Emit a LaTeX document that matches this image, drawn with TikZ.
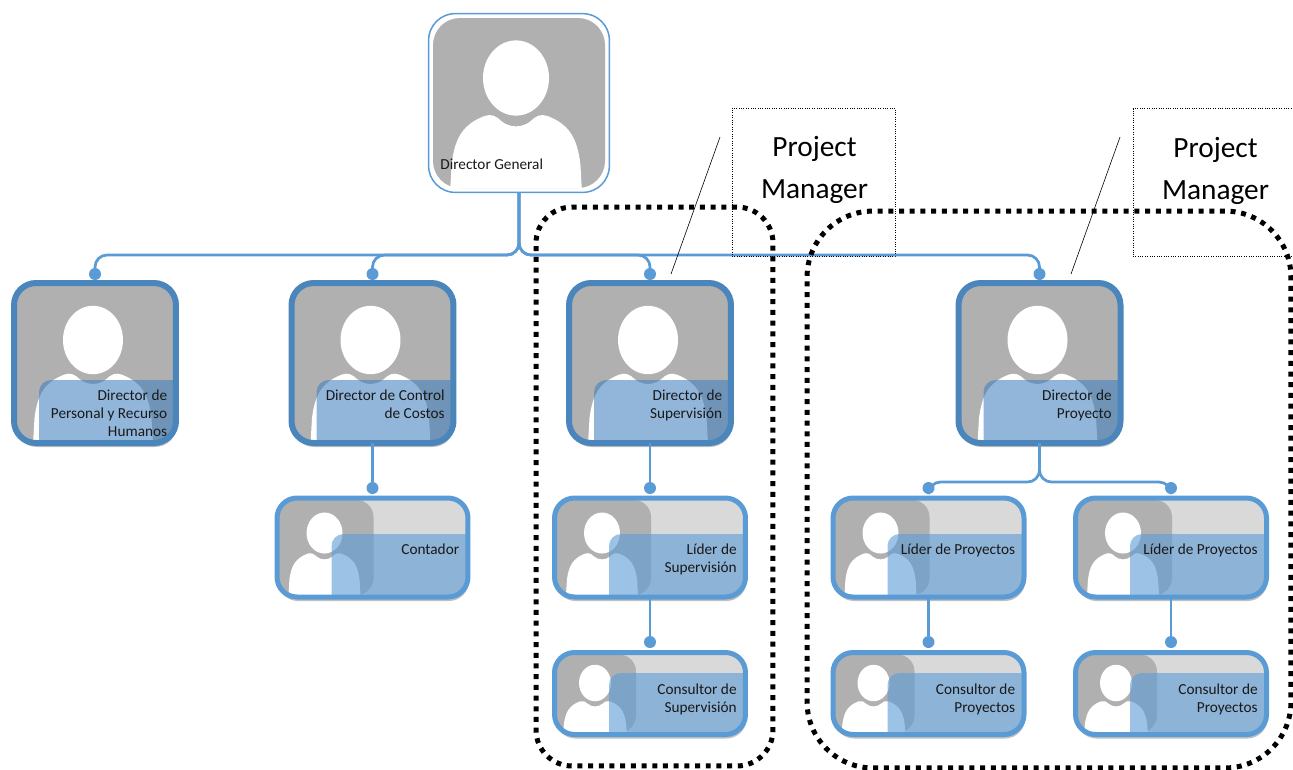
\documentclass[tikz,border=0pt]{standalone}
\usepackage{fontspec}
\setmainfont{Carlito}
\usepackage{xcolor}
\usetikzlibrary{positioning}
\usetikzlibrary{shadows}

\definecolor{linkblue}{HTML}{5B9BD5}
\definecolor{dirblue}{HTML}{4A85BC}
\definecolor{veilblue}{HTML}{3F80BE}
\definecolor{photogray}{HTML}{B0B0B0}
\definecolor{backgray}{HTML}{D9D9D9}

% white head and shoulders: #1,#2 head centre, #3 head radius
\newcommand{\facepic}[3]{%
  \fill[white,sharp corners] (#1,#2) ellipse [x radius=#3,y radius={1.14*#3}];
  \fill[white,sharp corners] ({#1-2.02*#3},{#2+3.8*#3}) -- ({#1-1.95*#3},{#2+2.6*#3})
    .. controls ({#1-1.85*#3},{#2+1.8*#3}) and ({#1-1.6*#3},{#2+1.4*#3}) .. ({#1-0.95*#3},{#2+1.15*#3})
    .. controls ({#1-0.75*#3},{#2+1.08*#3}) and ({#1-0.6*#3},{#2+1.15*#3}) .. ({#1-0.45*#3},{#2+1.3*#3})
    .. controls ({#1-0.2*#3},{#2+1.52*#3}) and ({#1+0.2*#3},{#2+1.52*#3}) .. ({#1+0.45*#3},{#2+1.3*#3})
    .. controls ({#1+0.6*#3},{#2+1.15*#3}) and ({#1+0.75*#3},{#2+1.08*#3}) .. ({#1+0.95*#3},{#2+1.15*#3})
    .. controls ({#1+1.6*#3},{#2+1.4*#3}) and ({#1+1.85*#3},{#2+1.8*#3}) .. ({#1+1.95*#3},{#2+2.6*#3})
    -- ({#1+2.02*#3},{#2+3.8*#3}) -- cycle;
}
\newcommand{\genphoto}{%
  \begin{scope}[shift={(path picture bounding box.center)}]
    \clip[rounded corners=.44cm] (-86,-85) rectangle (86,85);
    \fill[photogray] (-86,-85) rectangle (86,85);
    \facepic{-3}{-25}{33}
  \end{scope}}
\newcommand{\dirphoto}{%
  \begin{scope}[shift={(path picture bounding box.center)}]
    \fill[photogray] (-90,-90) rectangle (90,90);
    \facepic{-2}{-23}{30}
    \fill[veilblue,opacity=.57,rounded corners=.24cm] (-56,17) rectangle (120,120);
  \end{scope}}
% #1 right end of the photo, #2,#3 head centre, #4 head radius, #5 top of the veil, #6 half height
\newcommand{\smallphoto}[6]{%
  \begin{scope}[shift={(path picture bounding box.center)}]
    \fill[photogray,rounded corners=.34cm] (-130,-#6) rectangle (#1,#6);
    \facepic{#2}{#3}{#4}
    \fill[linkblue,opacity=.6,rounded corners=.24cm] (-41,#5) rectangle (130,90);
  \end{scope}}

\tikzset{
  dirbox/.style={rectangle,draw=dirblue,line width=.12cm,rounded corners=.44cm,
    minimum width=3.24cm,minimum height=3.2cm,outer sep=0pt,inner sep=0pt,
    fill=photogray,path picture={\dirphoto},
    drop shadow={shadow xshift=.02cm,shadow yshift=-.08cm,opacity=.25,fill=black}},
  liderbox/.style={rectangle,draw=linkblue,line width=.1cm,rounded corners=.4cm,
    minimum width=3.82cm,minimum height=1.98cm,outer sep=0pt,inner sep=0pt,
    fill=backgray,path picture={\smallphoto{1}{-48}{-14.5}{18}{-13.5}{47.5}},
    drop shadow={shadow xshift=.02cm,shadow yshift=-.08cm,opacity=.25,fill=black}},
  consulbox/.style={liderbox,minimum height=1.64cm,
    path picture={\smallphoto{-14}{-55}{-10.5}{16}{-20.5}{39}}},
  genbox/.style={rectangle,draw=linkblue,line width=.03cm,rounded corners=.54cm,
    minimum width=3.62cm,minimum height=3.58cm,outer sep=0pt,inner sep=0pt,
    fill=white,path picture={\genphoto}},
  cardtext/.style={anchor=north east,align=right,inner sep=0pt,text=black!90,
    font=\fontsize{8.7}{10.25}\selectfont},
  linkdot/.style={circle,fill=linkblue,minimum size=.24cm,inner sep=0pt,outer sep=0pt},
  link/.style={draw=linkblue,line width=.055cm,rounded corners=.24cm},
  groupframe/.style={rectangle,draw=black,line width=.1cm,dash pattern=on .1cm off .114cm,
    outer sep=0pt,inner sep=0pt},
  pmbox/.style={rectangle,draw=black,line width=.012cm,densely dotted,
    minimum width=3.26cm,minimum height=2.96cm,outer sep=0pt,inner sep=0pt},
  pmtext/.style={align=center,inner sep=0pt,text=black,
    font=\fontsize{16.7}{23.9}\selectfont},
  pmline/.style={draw=black,line width=.012cm}
}

\newcommand{\dircard}[4]{%
  \node (#1) [dirbox] at (#2,#3) {};
  \node (#1-text) [cardtext] at ([shift={(72.5,26.5)}]#1.center) {#4};
}
\newcommand{\lidercard}[4]{%
  \node (#1) [liderbox] at (#2,#3) {};
  \node (#1-text) [cardtext] at ([shift={(87,-4)}]#1.center) {#4};
}
\newcommand{\consulcard}[4]{%
  \node (#1) [consulbox] at (#2,#3) {};
  \node (#1-text) [cardtext] at ([shift={(87,-10)}]#1.center) {#4};
}

\begin{document}
\begin{tikzpicture}[x=.02cm,y=-.02cm]
  \useasboundingbox (0,0) rectangle (1293,769);

  \node (gen) [genbox] at (519,103) {};
  \node (gen-text) [cardtext,anchor=west] at ([shift={(-79,61)}]gen.center) {Director General};

  \dircard{dirper}{95}{363}{Director de\\Personal y Recurso\\Humanos}
  \dircard{dircos}{372.5}{363}{Director de Control\\de Costos}
  \dircard{dirsup}{650}{363}{Director de\\Supervisi\'on}
  \dircard{dirpro}{1039.5}{363}{Director de\\Proyecto}

  \lidercard{conta}{372.5}{547.5}{Contador}
  \lidercard{lidsup}{650}{547.5}{L\'ider de\\Supervisi\'on}
  \lidercard{lidpa}{928.5}{547.5}{L\'ider de Proyectos}
  \lidercard{lidpb}{1171}{547.5}{L\'ider de Proyectos}

  \consulcard{consup}{650}{693.5}{Consultor de\\Supervisi\'on}
  \consulcard{conpa}{928.5}{693.5}{Consultor de\\Proyectos}
  \consulcard{conpb}{1171}{693.5}{Consultor de\\Proyectos}

  % dots on top of the cards
  \node (dotper) [linkdot,above=.06cm of dirper] {};
  \node (dotcos) [linkdot,above=.06cm of dircos] {};
  \node (dotsup) [linkdot,above=.06cm of dirsup] {};
  \node (dotpro) [linkdot,above=.06cm of dirpro] {};
  \node (dotconta) [linkdot,above=.08cm of conta] {};
  \node (dotlidsup) [linkdot,above=.08cm of lidsup] {};
  \node (dotlidpa) [linkdot,above=.08cm of lidpa] {};
  \node (dotlidpb) [linkdot,above=.08cm of lidpb] {};
  \node (dotconsup) [linkdot,above=.09cm of consup] {};
  \node (dotconpa) [linkdot,above=.09cm of conpa] {};
  \node (dotconpb) [linkdot,above=.09cm of conpb] {};

  \coordinate (busgen) at (519,255);
  \coordinate (buspro) at (1039.5,482);
  \draw[link] (gen.south) -- (busgen) -| (dotper.center);
  \draw[link] (gen.south) -- (busgen) -| (dotcos.center);
  \draw[link] (gen.south) -- (busgen) -| (dotsup.center);
  \draw[link] (gen.south) -- (busgen) -| (dotpro.center);
  \draw[link] (dirpro.south) -- (buspro) -| (dotlidpa.center);
  \draw[link] (dirpro.south) -- (buspro) -| (dotlidpb.center);
  \draw[link] (dircos.south) -- (dotconta);
  \draw[link] (dirsup.south) -- (dotlidsup);
  \draw[link] (lidsup.south) -- (dotconsup);
  \draw[link] (lidpa.south) -- (dotconpa);
  \draw[link] (lidpb.south) -- (dotconpb);

  \node (framesup) [groupframe,rounded corners=.72cm,minimum width=4.74cm,minimum height=11.18cm] at (654.5,486.5) {};
  \node (framepro) [groupframe,rounded corners=1.32cm,minimum width=9.68cm,minimum height=11.14cm] at (1049,489.5) {};

  \node (pmboxa) [pmbox] at (813.5,182) {};
  \node (pmtexta) [pmtext] at (814.5,169.5) {Project\\Manager};
  \node (pmboxb) [pmbox] at (1214.5,182.5) {};
  \node (pmtextb) [pmtext] at (1215.5,170.5) {Project\\Manager};

  \coordinate (pmtipa) at (720,137);
  \coordinate (pmenda) at (671,274);
  \coordinate (pmtipb) at (1120,137);
  \coordinate (pmendb) at (1071,274);
  \draw[pmline] (pmtipa) -- (pmenda);
  \draw[pmline] (pmtipb) -- (pmendb);
\end{tikzpicture}
\end{document}
